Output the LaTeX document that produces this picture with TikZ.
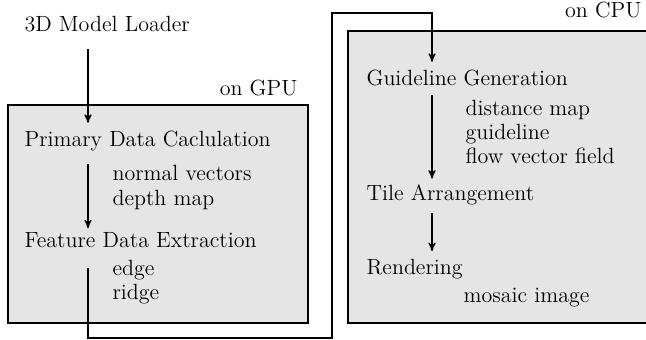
\documentclass[tikz,border=0pt]{standalone}
\usepackage{amsmath}
\usepackage{color}
\usetikzlibrary{arrows,positioning}
\definecolor{boxgray}{gray}{0.9}

\begin{document}
\begin{tikzpicture}[x=0.5pt,y=-0.5pt,->,>=stealth',semithick,
  font=\fontsize{11}{13}\selectfont]
\tikzset{unit/.style={-,draw,thick,fill=boxgray,inner sep=0pt},
  stage/.style={anchor=base west,inner sep=0pt},
  detail/.style={anchor=base west,inner sep=0pt},
  flow/.style={shorten <=5pt,shorten >=4pt}}
\useasboundingbox (0,0) rectangle (646,340);
% processors
\node (gpu) [unit,minimum width=150pt,minimum height=109pt] at (158,214) {};
\node (cpu) [unit,minimum width=152pt,minimum height=146pt] at (500,177) {};
\node (gpulabel) [anchor=base east,inner sep=0pt] at (298,96) {on GPU};
\node (cpulabel) [anchor=base east,inner sep=0pt] at (642,18) {on CPU};
% stages
\node (loader) [stage] at (24,32) {3D Model Loader};
\node (primary) [stage] at (24,147) {Primary Data Caclulation};
\node (normals) [detail] at (112,181) {normal vectors};
\node (depth) [detail] at (112,206) {depth map};
\node (feature) [stage] at (24,248) {Feature Data Extraction};
\node (edge) [detail] at (112,276) {edge};
\node (ridge) [detail] at (112,300) {ridge};
\node (guide) [stage] at (366,86) {Guideline Generation};
\node (distmap) [detail] at (465,116) {distance map};
\node (guideline) [detail] at (465,140) {guideline};
\node (flowfield) [detail] at (465,164) {flow vector field};
\node (tiles) [stage] at (366,201) {Tile Arrangement};
\node (render) [stage] at (366,275) {Rendering};
\node (mosaic) [detail] at (463,303) {mosaic image};
% arrows
\coordinate (gpuspine) at (88,0);
\coordinate (cpuspine) at (432,0);
\coordinate (lowturn) at (332,338);
\coordinate (highturn) at (332,13);
\draw [flow,shorten <=8pt] (loader.south -| gpuspine) -- (primary.north -| gpuspine);
\draw [flow,shorten <=6pt,shorten >=2pt] (primary.south -| gpuspine) -- (feature.north -| gpuspine);
\draw [flow,shorten <=9.5pt] (feature.south -| gpuspine) |- (lowturn) -- (highturn)
  -| (guide.north -| cpuspine);
\draw [flow,shorten <=4pt,shorten >=3pt] (guide.south -| cpuspine) -- (tiles.north -| cpuspine);
\draw [flow,shorten <=3.5pt] (tiles.south -| cpuspine) -- (render.north -| cpuspine);
\end{tikzpicture}
\end{document}
